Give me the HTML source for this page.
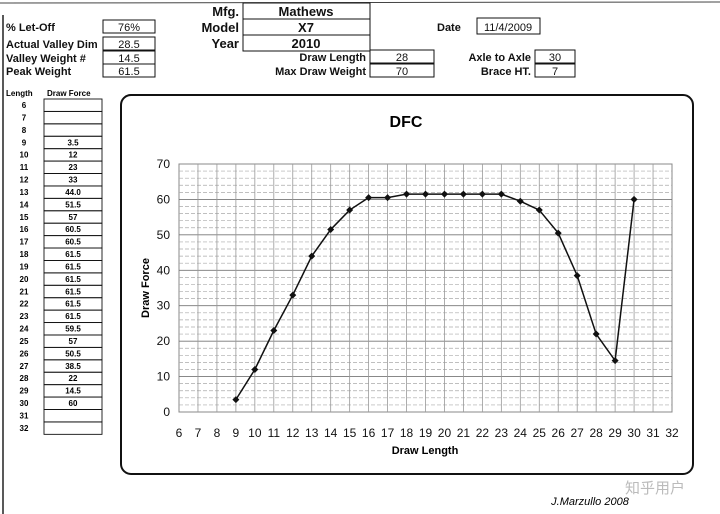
<!DOCTYPE html>
<html><head><meta charset="utf-8"><style>
body{margin:0;background:#fff;}
svg{display:block;font-family:"Liberation Sans",Arial,sans-serif;}
</style></head><body>
<svg id="s" width="720" height="514" viewBox="0 0 720 514" xmlns="http://www.w3.org/2000/svg">
<rect width="720" height="514" fill="#fff"/>
<line x1="3" y1="15" x2="3" y2="514" stroke="#222" stroke-width="1.5"/>
<line x1="0" y1="3" x2="720" y2="2" stroke="#444" stroke-width="1"/>
<g id="hdr" font-weight="bold" font-size="11" fill="#111"></g>
<g id="tbl"></g>
<rect x="121" y="95" width="572" height="379" rx="10" fill="#fff" stroke="#111" stroke-width="2"/>
<text x="406" y="127" text-anchor="middle" font-size="16" font-weight="bold">DFC</text>
<g id="grid"></g>
<g id="axes" font-size="12" fill="#111"></g>
<g id="series"></g>
<text x="149" y="288" transform="rotate(-90 149 288)" text-anchor="middle" font-size="11" font-weight="bold">Draw Force</text>
<text x="425" y="454" text-anchor="middle" font-size="11" font-weight="bold">Draw Length</text>
<text x="590" y="505" text-anchor="middle" font-size="11" font-style="italic">J.Marzullo 2008</text>
<text x="655" y="493" text-anchor="middle" font-size="15" fill="#bbb" font-family="'Noto Sans CJK SC',sans-serif">知乎用户</text>
</svg>
<script>
const lengths=[6,7,8,9,10,11,12,13,14,15,16,17,18,19,20,21,22,23,24,25,26,27,28,29,30,31,32];
const forces=[null,null,null,3.5,12,23,33,44.0,51.5,57,60.5,60.5,61.5,61.5,61.5,61.5,61.5,61.5,59.5,57,50.5,38.5,22,14.5,60,null,null];
const forceLabels=["","","","3.5","12","23","33","44.0","51.5","57","60.5","60.5","61.5","61.5","61.5","61.5","61.5","61.5","59.5","57","50.5","38.5","22","14.5","60","",""];
const yTicks=[0,10,20,30,40,50,60,70];
const xTicks=[6,7,8,9,10,11,12,13,14,15,16,17,18,19,20,21,22,23,24,25,26,27,28,29,30,31,32];
const NS="http://www.w3.org/2000/svg";
function mk(tag,a,p,txt){const e=document.createElementNS(NS,tag);for(const k in a)e.setAttribute(k,a[k]);if(txt!==undefined)e.textContent=txt;p.appendChild(e);return e;}
const X0=179,X1=672,Y0=412,Y1=164;
const xs=v=>X0+(v-6)/(32-6)*(X1-X0);
const ys=v=>Y0-v/70*(Y0-Y1);
// header
const hdr=document.getElementById('hdr');
const fields=[["% Let-Off","76%",27],["Actual Valley Dim","28.5",44],["Valley Weight #","14.5",58],["Peak Weight","61.5",71]];
fields.forEach(f=>{const l=mk('text',{x:6,y:f[2]+4},hdr,f[0]);


const b=mk('rect',{x:103,y:f[2]-7,width:52,height:13,fill:'none',stroke:'#111'},hdr);


mk('text',{x:129,y:f[2]+4,'text-anchor':'middle','font-weight':'normal'},hdr,f[1]);});
const mm=[["Mfg.","Mathews",11],["Model","X7",27],["Year","2010",43]];
mm.forEach(f=>{mk('text',{x:239,y:f[2]+5,'text-anchor':'end','font-size':13},hdr,f[0]);
const b=mk('rect',{x:243,y:f[2]-8,width:127,height:16,fill:'none',stroke:'#111'},hdr);


mk('text',{x:306,y:f[2]+5,'text-anchor':'middle','font-size':13},hdr,f[1]);});
mk('text',{x:437,y:31},hdr,"Date");
mk('rect',{x:477,y:18,width:63,height:16,fill:'none',stroke:'#111'},hdr);
mk('text',{x:508,y:31,'text-anchor':'middle','font-weight':'normal'},hdr,"11/4/2009");
[["Draw Length","28",57,366,370,64],["Max Draw Weight","70",71,366,370,64],["Axle to Axle","30",57,531,535,40],["Brace HT.","7",71,531,535,40]].forEach(f=>{
mk('text',{x:f[3],y:f[2]+4,'text-anchor':'end'},hdr,f[0]);
const b=mk('rect',{x:f[4],y:f[2]-7,width:f[5],height:13,fill:'none',stroke:'#111'},hdr);


mk('text',{x:f[4]+f[5]/2,y:f[2]+4,'text-anchor':'middle','font-weight':'normal'},hdr,f[1]);});
// table
const tbl=document.getElementById('tbl');
mk('text',{x:6,y:96,'font-size':8,'font-weight':'bold'},tbl,"Length");
mk('text',{x:47,y:96,'font-size':8,'font-weight':'bold'},tbl,"Draw Force");
lengths.forEach((L,i)=>{const y=105+i*12.42;
mk('text',{x:24,y:y+3,'text-anchor':'middle','font-size':8,'font-weight':'bold'},tbl,String(L));
const r=mk('rect',{x:44,y:y-6,width:58,height:12.42,fill:'none',stroke:'#111','stroke-width':0.9},tbl);


mk('text',{x:73,y:y+3,'text-anchor':'middle','font-size':8,'font-weight':'bold'},tbl,forceLabels[i]);});
// grid
const g=document.getElementById('grid');
mk('rect',{x:X0,y:Y1,width:X1-X0,height:Y0-Y1,fill:'none',stroke:'#888'},g);
for(let v=2;v<70;v+=2){const major=v%10===0;
mk('line',{x1:X0,x2:X1,y1:ys(v),y2:ys(v),stroke:major?'#777':'#aaa','stroke-width':major?0.9:0.7,'stroke-dasharray':major?'':'4 2'},g);}
xTicks.forEach(t=>{if(t>6&&t<32)mk('line',{x1:xs(t),x2:xs(t),y1:Y1,y2:Y0,stroke:'#999','stroke-width':0.8},g);});
const ax=document.getElementById('axes');
yTicks.forEach(t=>{const e=mk('text',{x:170,y:ys(t)+4,'text-anchor':'end'},ax,String(t));

});
xTicks.forEach(t=>{const e=mk('text',{x:xs(t),y:437,'text-anchor':'middle'},ax,String(t));

});
// series
const s=document.getElementById('series');
const pts=[];lengths.forEach((L,i)=>{if(forces[i]!==null)pts.push([xs(L),ys(forces[i])]);});
const pl=mk('polyline',{points:pts.map(p=>p.join(',')).join(' '),fill:'none',stroke:'#111','stroke-width':1.5},s);


pts.forEach(p=>{const d=mk('polygon',{points:`${p[0]},${p[1]-3.5} ${p[0]+3.5},${p[1]} ${p[0]},${p[1]+3.5} ${p[0]-3.5},${p[1]}`,fill:'#111'},s);

});
</script>
</body></html>
